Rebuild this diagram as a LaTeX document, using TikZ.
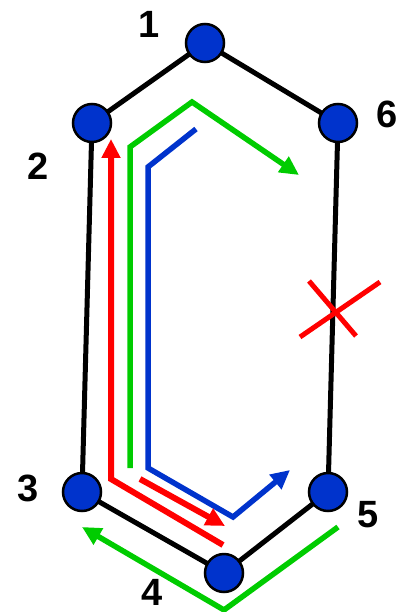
\documentclass[tikz,border=0pt]{standalone}
\usepackage{fontspec}
\setmainfont{Liberation Sans}
\usetikzlibrary{arrows.meta}
\definecolor{nodeblue}{RGB}{0,51,204}
\definecolor{pathgreen}{RGB}{0,204,0}
\definecolor{pathred}{RGB}{255,0,0}
\begin{document}
\begin{tikzpicture}[x=1pt,y=-1pt,
  atom/.style={circle,draw=black,line width=2.5pt,fill=nodeblue,minimum size=38pt,inner sep=0pt},
  bond/.style={draw=black,line width=5pt},
  lbl/.style={font=\fontsize{38}{40}\selectfont\bfseries,inner sep=0pt},
  tip/.style={-{Triangle[length=19pt,width=18pt]}},
  gpath/.style={draw=pathgreen,line width=5.5pt},
  bpath/.style={draw=nodeblue,line width=5.5pt},
  rpath/.style={draw=pathred,line width=6pt}]
\useasboundingbox (0,0) rectangle (399,612);
% bonds first (behind nodes)
\coordinate (p1) at (205,43);
\coordinate (p2) at (92,123);
\coordinate (p6) at (338,123);
\coordinate (p3) at (82,492);
\coordinate (p5) at (328,492);
\coordinate (p4) at (224,573);
\draw[bond] (p1) -- (p2);
\draw[bond] (p1) -- (p6);
\draw[bond] (p2) -- (p3);
\draw[bond] (p6) -- (p5);
\draw[bond] (p3) -- (p4);
\draw[bond] (p4) -- (p5);
% atoms
\node[atom] (n1) at (p1) {};
\node[atom] (n2) at (p2) {};
\node[atom] (n6) at (p6) {};
\node[atom] (n3) at (p3) {};
\node[atom] (n5) at (p5) {};
\node[atom] (n4) at (p4) {};
% labels
\node[lbl] (l1) at (149,24) {1};
\node[lbl] (l2) at (38,166) {2};
\node[lbl] (l6) at (387,114) {6};
\node[lbl] (l3) at (28,488) {3};
\node[lbl] (l4) at (152,592) {4};
\node[lbl] (l5) at (368,515) {5};
% green top path
\coordinate (g1) at (130,468);
\coordinate (g2) at (130,147);
\coordinate (g3) at (192,102);
\coordinate (g4) at (299,175);
\draw[gpath,tip,line join=miter] (g1) -- (g2) -- (g3) -- (g4);
% blue path
\coordinate (b1) at (196,129);
\coordinate (b2) at (148,167);
\coordinate (b3) at (148,468);
\coordinate (b4) at (233,517);
\coordinate (b5) at (290,470);
\draw[bpath,tip,line join=miter] (b1) -- (b2) -- (b3) -- (b4) -- (b5);
% red paths
\coordinate (r1) at (223,545);
\coordinate (r2) at (111,479);
\coordinate (r3) at (111,139);
\draw[rpath,tip,line join=miter] (r1) -- (r2) -- (r3);
\coordinate (r4) at (140,479);
\coordinate (r5) at (225,526);
\draw[rpath,tip] (r4) -- (r5);
% green bottom path
\coordinate (h1) at (338,527);
\coordinate (h2) at (224,610);
\coordinate (h3) at (82,527);
\draw[gpath,tip,line join=miter] (h1) -- (h2) -- (h3);
% red cross
\coordinate (x1) at (309,281);
\coordinate (x2) at (356,336);
\coordinate (x3) at (300,337);
\coordinate (x4) at (380,282);
\draw[draw=pathred,line width=5pt] (x1) -- (x2);
\draw[draw=pathred,line width=5pt] (x3) -- (x4);
\end{tikzpicture}
\end{document}
